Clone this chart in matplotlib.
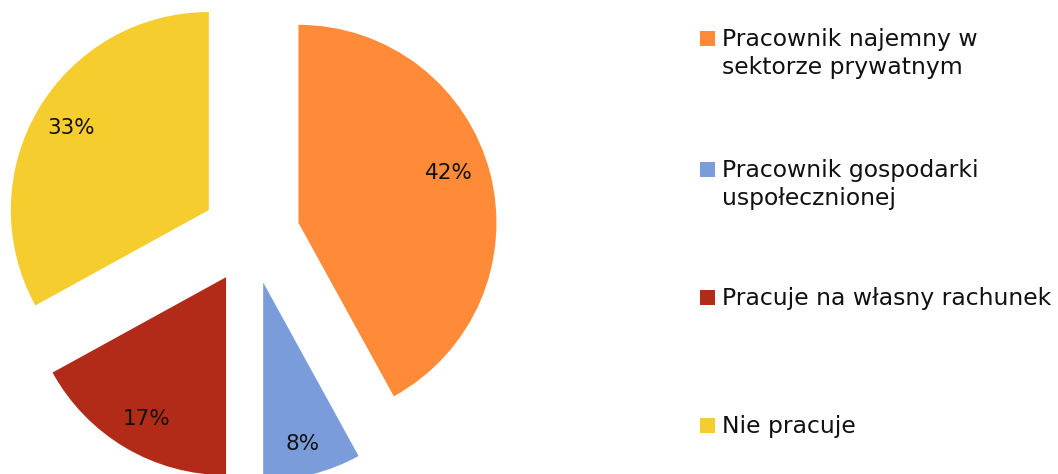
import matplotlib
matplotlib.use("Agg")
import matplotlib.pyplot as plt
from matplotlib.patches import Rectangle
import numpy as np

categories = ["Pracownik najemny w\nsektorze prywatnym",
              "Pracownik gospodarki\nuspołecznionej",
              "Pracuje na własny rachunek",
              "Nie pracuje"]
values = [42, 8, 17, 33]
colors = ["#FF8A38", "#7B9CDB", "#B22B18", "#F5CD2F"]

# label placement tweaks (fraction of radius, angular shift in degrees)
pct_dist = [0.80, 0.84, 0.82, 0.81]
pct_shift = [3.8, -0.8, 1.3, -0.3]

W, H = 1058, 474
fig = plt.figure(figsize=(W / 100, H / 100), dpi=100)
ax = fig.add_axes([0, 0, 1, 1])
ax.set_xlim(0, W)
ax.set_ylim(0, H)
ax.set_aspect("equal")
ax.axis("off")

R = 198
cx, cy = 251, H - 235
wedges, _, autotexts = ax.pie(values, colors=colors, startangle=90, counterclock=False,
                              radius=R, center=(cx, cy), explode=[49] * 4,
                              autopct=lambda p: f"{p:.0f}%", pctdistance=0.8,
                              textprops=dict(fontsize=15.5, color="#111111"),
                              wedgeprops=dict(linewidth=0))
ax.set_xlim(0, W)
ax.set_ylim(0, H)

for w, t, f, s in zip(wedges, autotexts, pct_dist, pct_shift):
    ang = np.deg2rad((w.theta1 + w.theta2) / 2 + s)
    wx, wy = w.center
    t.set_position((wx + f * R * np.cos(ang), wy + f * R * np.sin(ang)))

# Legend drawn manually
leg_base = [46, 177, 305, 433]
line_gap = 28
for lab, col, y in zip(categories, colors, leg_base):
    ax.add_patch(Rectangle((700, H - y), 15, 15, color=col, lw=0))
    for i, line in enumerate(lab.split("\n")):
        ax.text(722, H - y - i * line_gap, line, fontsize=16.9, va="baseline",
                ha="left", color="#111111")

fig.savefig("out.png", dpi=100)
